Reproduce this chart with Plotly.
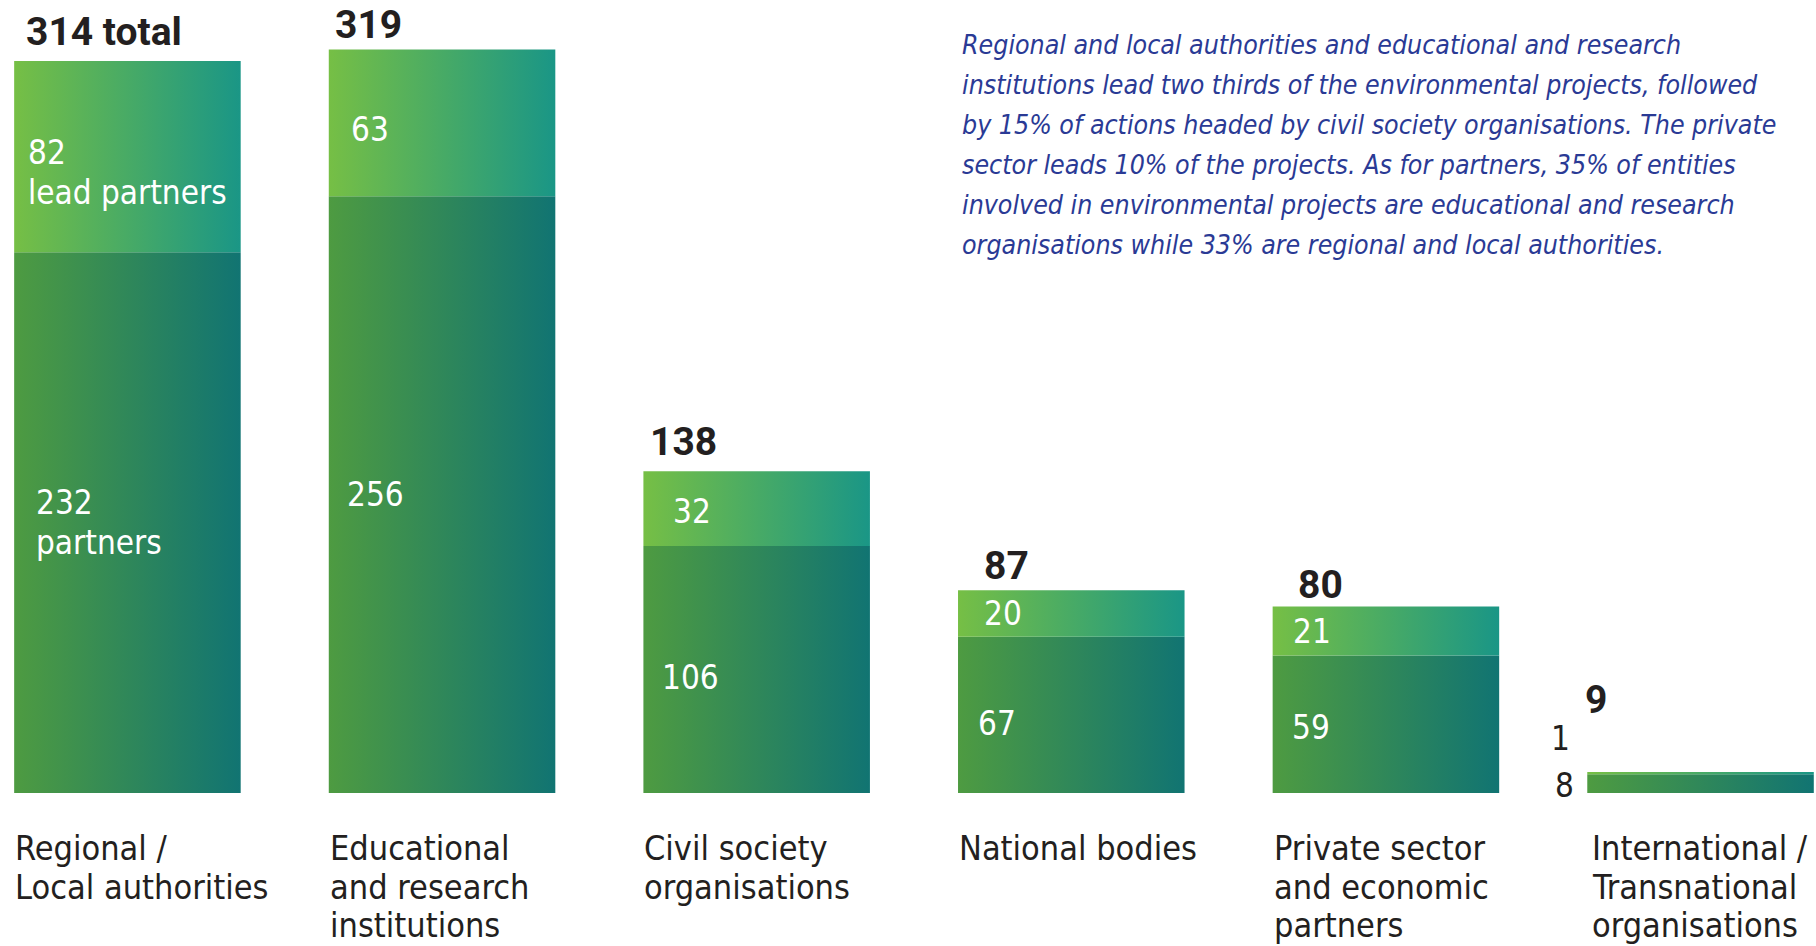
import plotly.graph_objects as go

# ---------------- data ----------------
categories = [
    ["Regional /", "Local authorities"],
    ["Educational", "and research", "institutions"],
    ["Civil society", "organisations"],
    ["National bodies"],
    ["Private sector", "and economic", "partners"],
    ["International /", "Transnational", "organisations"],
]
lead_partners = [82, 63, 32, 20, 21, 1]
partners = [232, 256, 106, 67, 59, 8]
totals = [l + p for l, p in zip(lead_partners, partners)]
lead_suffix = ["lead partners", "", "", "", "", ""]
partner_suffix = ["partners", "", "", "", "", ""]
total_suffix = [" total", "", "", "", "", ""]
note_lines = [
    "Regional and local authorities and educational and research",
    "institutions lead two thirds of the environmental projects, followed",
    "by 15% of actions headed by civil society organisations. The private",
    "sector leads 10% of the projects. As for partners, 35% of entities",
    "involved in environmental projects are educational and research",
    "organisations while 33% are regional and local authorities.",
]

# ---------------- style ----------------
W, H = 1816, 946
BOTTOM = 153
BAR_W = 0.72
X0, X1 = -0.405, 5.367
Y_MAX = 340.2
LEAD_COLORS = ["#76BF45", "#1A9686"]
PARTNER_COLORS = ["#4E9B41", "#117472"]
DARK = "#231F20"
BLUE = "#2A3A95"
NARROW = "Liberation Sans Narrow, Arial Narrow, DejaVu Sans Condensed, Roboto, sans-serif"
BOLD = "Roboto, Open Sans, sans-serif"
total_dx = [10, 4, 5, 24, 23, -4]
total_dy = [29, 24, 29, 24, 22, 72]
lead_dx = [12, 20, 28, 24, 18, 0]
lead_dy = [-16, -7, -3, 0, 0, 0]
partner_dx = [20, 16, 17, 18, 17, 0]
partner_dy = [0, 0, -8, -9, -3, 0]
cat_dx = [0, 0, 0, 0, 0, 4]

fig = go.Figure()


def seg(i, base, value, colors):
    xl, xr = i - BAR_W / 2, i + BAR_W / 2
    fig.add_trace(go.Scatter(
        x=[xl, xr, xr, xl, xl],
        y=[base, base, base + value, base + value, base],
        mode="lines", line=dict(width=0), fill="toself",
        fillcolor=colors[0],
        fillgradient=dict(type="horizontal",
                          colorscale=[[0, colors[0]], [1, colors[1]]]),
        hoverinfo="skip", showlegend=False,
    ))


for i in range(len(totals)):
    seg(i, 0, partners[i], PARTNER_COLORS)
    seg(i, partners[i], lead_partners[i], LEAD_COLORS)

ann = []


def lines_at(x, y, lines, size, color, family, dx, dy_center, spacing,
             xanchor="left", xref="x", yref="y"):
    n = len(lines)
    for k, t in enumerate(lines):
        off = (k - (n - 1) / 2) * spacing
        ann.append(dict(x=x, y=y, xref=xref, yref=yref, text=t, showarrow=False,
                        xanchor=xanchor, yanchor="middle",
                        xshift=dx, yshift=dy_center - off,
                        font=dict(size=size, color=color, family=family)))


for i in range(len(totals)):
    left = i - BAR_W / 2
    # totals
    ann.append(dict(x=left, y=totals[i], xref="x", yref="y",
                    text="<b>%d%s</b>" % (totals[i], total_suffix[i]),
                    showarrow=False, xanchor="left", yanchor="middle",
                    xshift=total_dx[i], yshift=total_dy[i],
                    font=dict(size=39, color=DARK, family=BOLD)))
    # category labels
    for k, t in enumerate(categories[i]):
        ann.append(dict(x=left, y=0, xref="x", yref="y", text=t, showarrow=False,
                        xanchor="left", yanchor="middle", borderpad=0,
                        xshift=cat_dx[i], yshift=-55 - 38.5 * k,
                        font=dict(size=34, color=DARK, family=NARROW)))
    if partners[i] > 20:
        ll = [str(lead_partners[i])] + ([lead_suffix[i]] if lead_suffix[i] else [])
        pl = [str(partners[i])] + ([partner_suffix[i]] if partner_suffix[i] else [])
        lines_at(left, partners[i] + lead_partners[i] / 2, ll, 33, "white", NARROW,
                 lead_dx[i], lead_dy[i], 40.5)
        lines_at(left, partners[i] / 2, pl, 33, "white", NARROW,
                 partner_dx[i], partner_dy[i], 40.5)
    else:
        # tiny bar: labels outside, to the left
        lines_at(left, partners[i] / 2, [str(partners[i])], 33, DARK, NARROW,
                 -11, -2, 40, xanchor="right")
        lines_at(left, partners[i] / 2, [str(lead_partners[i])], 33, DARK, NARROW,
                 -15, 45, 40, xanchor="right")

# explanatory note
for k, t in enumerate(note_lines):
    ann.append(dict(x=960 / W, y=1, xref="paper", yref="paper", text="<i>%s</i>" % t,
                    showarrow=False, xanchor="left", yanchor="middle",
                    yshift=-44 - 40 * k,
                    font=dict(size=26.5, color=BLUE, family=NARROW)))

fig.update_layout(
    width=W, height=H,
    margin=dict(l=0, r=0, t=0, b=BOTTOM, autoexpand=False),
    paper_bgcolor="white", plot_bgcolor="white",
    xaxis=dict(range=[X0, X1], visible=False, fixedrange=True),
    yaxis=dict(range=[0, Y_MAX], visible=False, fixedrange=True),
    annotations=ann,
    showlegend=False,
)

fig.write_html("out.html", config={"displayModeBar": False})
